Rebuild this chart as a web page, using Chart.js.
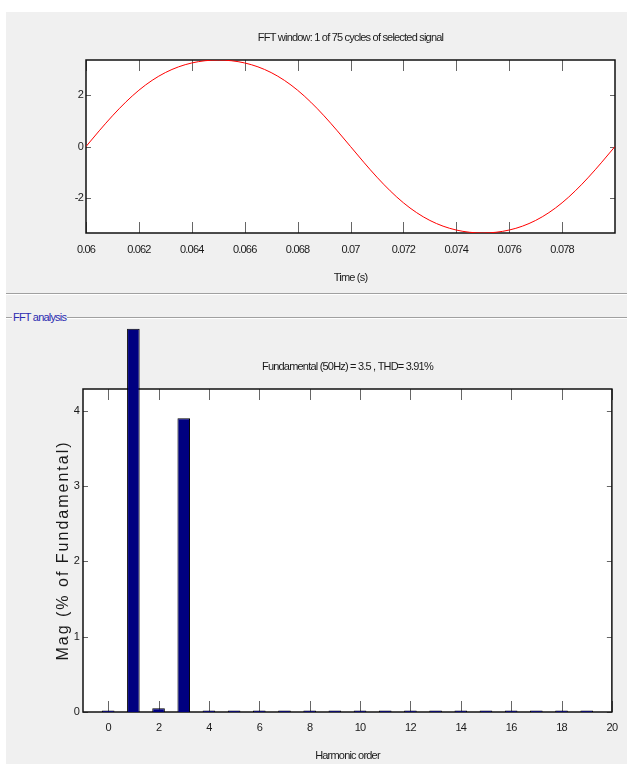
<!DOCTYPE html>
<html lang="en">
<head>
<meta charset="UTF-8">
<title>FFT analysis</title>
<script src="https://cdn.jsdelivr.net/npm/chart.js"></script>
<style>
    body {
        margin: 0;
        width: 627px;
        height: 764px;
        overflow: hidden;
        position: relative;
        background: #fff;
        font-family: "Liberation Sans", Arial, sans-serif;
    }
    #panel {
        position: absolute;
        left: 6px; top: 12px;
        width: 621px; height: 752px;
        background: #f0f0f0;
    }
    .sep {
        position: absolute;
        left: 6px;
        width: 621px;
        height: 1px;
        background: #a0a0a0;
        border-bottom: 1px solid #fff;
    }
    #fftLabel {
        position: absolute;
        left: 12px; top: 309px;
        padding: 0 1px;
        background: #f0f0f0;
        color: #2b2bb0;
        font-size: 11px;
        letter-spacing: -0.8px;
        line-height: 16px;
    }
    #topBox { position: absolute; left: 0; top: 12px; width: 627px; height: 281px; }
    #botBox { position: absolute; left: 0; top: 320px; width: 627px; height: 444px; }
</style>
</head>
<body>
<div id="panel"></div>
<div class="sep" style="top:293px"></div>
<div class="sep" style="top:317px"></div>
<div id="fftLabel">FFT analysis</div>
<div id="topBox"><canvas id="signalChart"></canvas></div>
<div id="botBox"><canvas id="fftChart"></canvas></div>
<script>
// signal window (one cycle)
const timeVals = [0.06, 0.0605, 0.061, 0.0615, 0.062, 0.0625, 0.063, 0.0635, 0.064, 0.0645,
    0.065, 0.0655, 0.066, 0.0665, 0.067, 0.0675, 0.068, 0.0685, 0.069, 0.0695,
    0.07, 0.0705, 0.071, 0.0715, 0.072, 0.0725, 0.073, 0.0735, 0.074, 0.0745,
    0.075, 0.0755, 0.076, 0.0765, 0.077, 0.0775, 0.078, 0.0785, 0.079, 0.0795, 0.08];
const signalVals = [0, 0.610, 1.192, 1.724, 2.188, 2.572, 2.874, 3.097, 3.248, 3.335,
    3.363, 3.335, 3.248, 3.097, 2.874, 2.572, 2.188, 1.724, 1.192, 0.610,
    0, -0.610, -1.192, -1.724, -2.188, -2.572, -2.874, -3.097, -3.248, -3.335,
    -3.363, -3.335, -3.248, -3.097, -2.874, -2.572, -2.188, -1.724, -1.192, -0.610, 0];
const timeTicks = [0.06, 0.062, 0.064, 0.066, 0.068, 0.07, 0.072, 0.074, 0.076, 0.078];
const timeTickLabels = ['0.06', '0.062', '0.064', '0.066', '0.068', '0.07', '0.072', '0.074', '0.076', '0.078'];
const signalTicks = [-2, 0, 2];

// harmonic spectrum
const harmonics = [0, 1, 2, 3, 4, 5, 6, 7, 8, 9, 10, 11, 12, 13, 14, 15, 16, 17, 18, 19];
const magnitudes = [0.02, 5.09, 0.05, 3.90, 0.02, 0.02, 0.02, 0.02, 0.02, 0.02,
    0.02, 0.02, 0.02, 0.02, 0.02, 0.02, 0.02, 0.02, 0.02, 0.02];
const harmonicTicks = [0, 2, 4, 6, 8, 10, 12, 14, 16, 18, 20];
const magTicks = [0, 1, 2, 3, 4];
const magTitle = 'Mag (% of Fundamental)';

const FONT = '"Liberation Sans", Arial, sans-serif';
const TEXT = '#1a1a1a';

// white plot box, inward ticks on all four sides, black frame
const framePlugin = {
    id: 'frame',
    beforeDraw(chart) {
        const {ctx, chartArea: a} = chart;
        // squeeze all chart text a little, like the narrow matlab font
        ctx.letterSpacing = '-0.8px';
        ctx.save();
        ctx.fillStyle = '#fff';
        ctx.fillRect(a.left, a.top, a.width, a.height);
        ctx.restore();
    },
    beforeDatasetsDraw(chart) {
        const {ctx, chartArea: a, scales: {x, y}} = chart;
        ctx.save();
        ctx.strokeStyle = '#666';
        ctx.lineWidth = 1;
        ctx.beginPath();
        x.ticks.forEach(t => {
            const px = Math.round(x.getPixelForValue(t.value)) + 0.5;
            ctx.moveTo(px, a.bottom); ctx.lineTo(px, a.bottom - 11);
            ctx.moveTo(px, a.top); ctx.lineTo(px, a.top + 11);
        });
        y.ticks.forEach(t => {
            const py = Math.round(y.getPixelForValue(t.value)) + 0.5;
            ctx.moveTo(a.left, py); ctx.lineTo(a.left + 5, py);
            ctx.moveTo(a.right, py); ctx.lineTo(a.right - 5, py);
        });
        ctx.stroke();
        ctx.strokeStyle = '#111';
        ctx.lineWidth = 1.5;
        ctx.strokeRect(a.left, a.top, a.width, a.height);
        ctx.restore();
    }
};

// y label of the spectrum, wide spaced
const magTitlePlugin = {
    id: 'magTitle',
    afterDraw(chart) {
        const {ctx, chartArea: a} = chart;
        ctx.save();
        ctx.letterSpacing = '2px';
        ctx.font = '16px ' + FONT;
        ctx.fillStyle = '#1a1a1a';
        ctx.textAlign = 'center';
        ctx.textBaseline = 'middle';
        ctx.translate(64, (a.top + a.bottom) / 2);
        ctx.rotate(-Math.PI / 2);
        ctx.fillText(magTitle, 0, 0);
        ctx.restore();
    }
};

new Chart(document.getElementById('signalChart'), {
    type: 'line',
    data: {
        datasets: [{
            data: timeVals.map((t, i) => ({x: t, y: signalVals[i]})),
            borderColor: '#ff0000',
            borderWidth: 1,
            pointRadius: 0,
            cubicInterpolationMode: 'monotone'
        }]
    },
    options: {
        responsive: true,
        maintainAspectRatio: false,
        animation: false,
        layout: {padding: {left: 0, right: 12, top: 0, bottom: 0}},
        plugins: {
            legend: {display: false},
            tooltip: {enabled: false},
            title: {
                display: true,
                text: 'FFT window: 1 of 75 cycles of selected signal',
                fullSize: false,
                color: TEXT,
                font: {family: FONT, size: 11, weight: 'normal'},
                padding: {top: 19.4, bottom: 15.4}
            }
        },
        scales: {
            x: {
                type: 'linear',
                min: 0.06,
                max: 0.08,
                grid: {display: false, drawTicks: false},
                border: {display: false},
                afterBuildTicks: s => { s.ticks = timeTicks.map(v => ({value: v})); },
                afterFit: s => { s.height = 60; },
                ticks: {
                    autoSkip: false, maxRotation: 0, padding: 10, color: TEXT,
                    font: {family: FONT, size: 11},
                    callback: (v, i) => timeTickLabels[i]
                },
                title: {
                    display: true, text: 'Time (s)', color: TEXT,
                    font: {family: FONT, size: 11},
                    padding: {top: 0, bottom: 8.5}
                }
            },
            y: {
                min: -3.363,
                max: 3.363,
                grid: {display: false, drawTicks: false},
                border: {display: false},
                afterBuildTicks: s => { s.ticks = signalTicks.map(v => ({value: v})); },
                afterFit: s => { s.width = 86; },
                ticks: {padding: 3, color: TEXT, font: {family: FONT, size: 11}}
            }
        }
    },
    plugins: [framePlugin]
});

new Chart(document.getElementById('fftChart'), {
    type: 'bar',
    data: {
        datasets: [{
            data: harmonics.map((h, i) => ({x: h, y: magnitudes[i]})),
            backgroundColor: '#000080',
            borderColor: '#000000',
            borderWidth: 1,
            barPercentage: 0.5,
            categoryPercentage: 1,
            clip: false
        }]
    },
    options: {
        responsive: true,
        maintainAspectRatio: false,
        animation: false,
        layout: {padding: {left: 0, right: 11, top: 0, bottom: 0}},
        plugins: {
            legend: {display: false},
            tooltip: {enabled: false},
            title: {
                display: true,
                text: 'Fundamental (50Hz) = 3.5 , THD= 3.91%',
                fullSize: false,
                color: TEXT,
                font: {family: FONT, size: 11, weight: 'normal'},
                padding: {top: 40.4, bottom: 15.4}
            }
        },
        scales: {
            x: {
                type: 'linear',
                min: -1,
                max: 20,
                offset: false,
                grid: {display: false, drawTicks: false, offset: false},
                border: {display: false},
                afterBuildTicks: s => { s.ticks = harmonicTicks.map(v => ({value: v})); },
                afterFit: s => { s.height = 52; },
                ticks: {autoSkip: false, maxRotation: 0, padding: 9, color: TEXT, font: {family: FONT, size: 11}},
                title: {
                    display: true, text: 'Harmonic order', color: TEXT,
                    font: {family: FONT, size: 11},
                    padding: {top: 0, bottom: 1}
                }
            },
            y: {
                min: 0,
                max: 4.29,
                grid: {display: false, drawTicks: false},
                border: {display: false},
                afterBuildTicks: s => { s.ticks = magTicks.map(v => ({value: v})); },
                afterFit: s => { s.width = 83; },
                ticks: {padding: 4, color: TEXT, font: {family: FONT, size: 11}}
            }
        }
    },
    plugins: [framePlugin, magTitlePlugin]
});
</script>
</body>
</html>
